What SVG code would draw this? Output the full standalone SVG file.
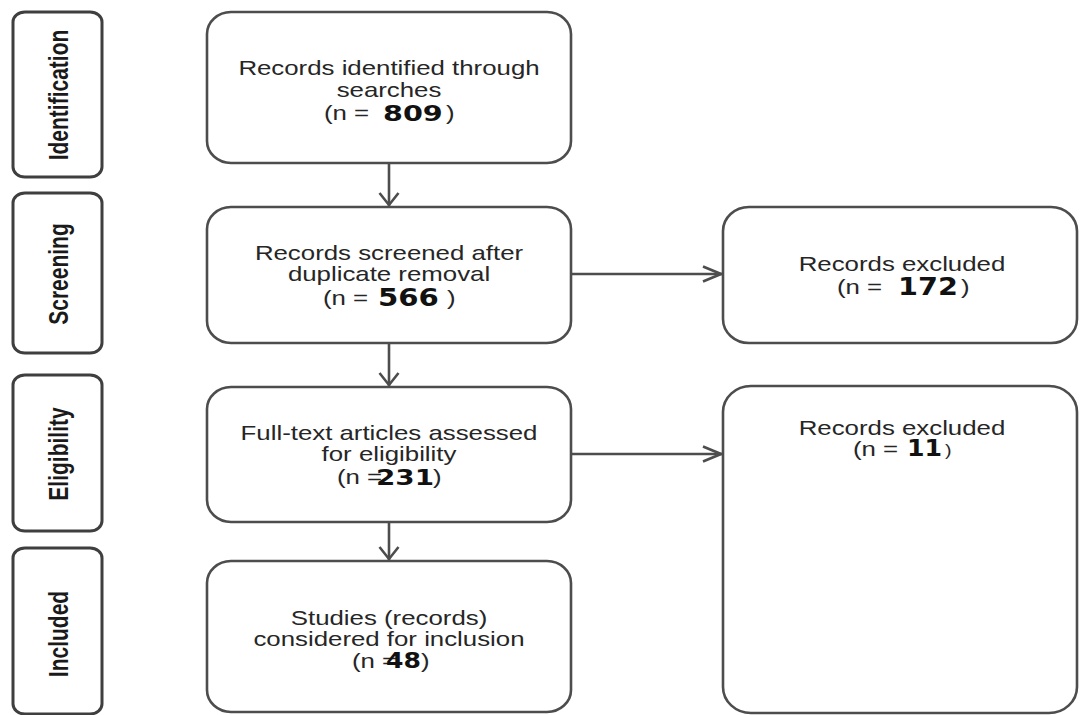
<svg xmlns="http://www.w3.org/2000/svg" width="1080" height="715" viewBox="0 0 1080 715">
<style>
.box{fill:#ffffff;stroke:#4d4d4d;stroke-width:2.6}
.side{fill:#ffffff;stroke:#3f3f3f;stroke-width:3}
.lab{font-family:"Liberation Sans",Arial,sans-serif;font-weight:bold;font-size:21px;fill:#1a1a1a}
.t{font-family:"Liberation Sans",Arial,sans-serif;font-size:21px;fill:#262626}
.num{font-family:"DejaVu Sans",Verdana,sans-serif;font-weight:bold;fill:#111111}
.con{fill:none;stroke:#4d4d4d;stroke-width:2.6}
.head{fill:none;stroke:#4d4d4d;stroke-width:2.6;stroke-linejoin:miter}
</style>
<defs>
<marker id="arrV" markerUnits="userSpaceOnUse" viewBox="-24 -12 26 24" refX="0" refY="0" markerWidth="26" markerHeight="24" orient="auto">
<path class="head" d="M-13,-9.5 L-1,0 L-13,9.5"/>
</marker>
<marker id="arrH" markerUnits="userSpaceOnUse" viewBox="-24 -12 26 24" refX="0" refY="0" markerWidth="26" markerHeight="24" orient="auto">
<path class="head" d="M-19,-7.5 L-1,0 L-19,7.5"/>
</marker>
</defs>
<rect width="1080" height="715" fill="#ffffff"/>

<g id="stage-identification">
<rect class="side" x="13" y="12" width="89" height="165" rx="12" ry="10"/>
<text class="lab" text-anchor="middle" transform="matrix(0 -1 1.3 0 68 95)">Identification</text>
</g>
<g id="stage-screening">
<rect class="side" x="13" y="193" width="89" height="160" rx="12" ry="10"/>
<text class="lab" text-anchor="middle" transform="matrix(0 -1 1.3 0 68 274)">Screening</text>
</g>
<g id="stage-eligibility">
<rect class="side" x="13" y="375" width="89" height="156" rx="12" ry="10"/>
<text class="lab" text-anchor="middle" transform="matrix(0 -1 1.3 0 68 454)">Eligibility</text>
</g>
<g id="stage-included">
<rect class="side" x="13" y="548" width="89" height="166" rx="12" ry="10"/>
<text class="lab" text-anchor="middle" transform="matrix(0 -1 1.3 0 68 634)">Included</text>
</g>

<g id="connectors">
<line class="con" x1="389" y1="163" x2="389" y2="206" marker-end="url(#arrV)"/>
<line class="con" x1="389" y1="343" x2="389" y2="386" marker-end="url(#arrV)"/>
<line class="con" x1="389" y1="522" x2="389" y2="560" marker-end="url(#arrV)"/>
<line class="con" x1="571" y1="274" x2="722" y2="274" marker-end="url(#arrH)"/>
<line class="con" x1="571" y1="454" x2="722" y2="454" marker-end="url(#arrH)"/>
</g>

<g id="identified">
<rect class="box" x="207" y="12" width="364" height="151" rx="24" ry="22"/>
<text class="t" text-anchor="middle" transform="matrix(1.23 0 0 1 389 75)">Records identified through</text>
<text class="t" text-anchor="middle" transform="matrix(1.23 0 0 1 389 97)">searches</text>
<text class="t" transform="matrix(1.23 0 0 1 324 120)">(n =</text>
<text class="num" style="font-size:20.6px" transform="matrix(1.39 0 0 1 383 120.5)">809</text>
<text class="t" transform="matrix(1.23 0 0 1 446 120)">)</text>
</g>

<g id="screened">
<rect class="box" x="207" y="207" width="364" height="136" rx="24" ry="22"/>
<text class="t" text-anchor="middle" transform="matrix(1.23 0 0 1 389 260)">Records screened after</text>
<text class="t" text-anchor="middle" transform="matrix(1.23 0 0 1 389 281)">duplicate removal</text>
<text class="t" transform="matrix(1.23 0 0 1 323 305)">(n =</text>
<text class="num" style="font-size:24.3px" transform="matrix(1.2 0 0 1 378 306)">566</text>
<text class="t" transform="matrix(1.23 0 0 1 447 305)">)</text>
</g>

<g id="fulltext">
<rect class="box" x="207" y="387" width="364" height="135" rx="24" ry="22"/>
<text class="t" text-anchor="middle" transform="matrix(1.23 0 0 1 389 440)">Full-text articles assessed</text>
<text class="t" text-anchor="middle" transform="matrix(1.23 0 0 1 389 461)">for eligibility</text>
<text class="t" transform="matrix(1.23 0 0 1 337 484)">(n =</text>
<text class="num" style="font-size:20.6px" transform="matrix(1.35 0 0 1 376 485)">231</text>
<text class="t" transform="matrix(1.23 0 0 1 433 484)">)</text>
</g>

<g id="included">
<rect class="box" x="207" y="561" width="364" height="151" rx="24" ry="22"/>
<text class="t" text-anchor="middle" transform="matrix(1.23 0 0 1 389 625)">Studies (records)</text>
<text class="t" text-anchor="middle" transform="matrix(1.23 0 0 1 389 646)">considered for inclusion</text>
<text class="t" transform="matrix(1.23 0 0 1 352 668)">(n =</text>
<text class="num" style="font-size:20.6px" transform="matrix(1.22 0 0 1 386 668)">48</text>
<text class="t" transform="matrix(1.23 0 0 1 421 668)">)</text>
</g>

<g id="excluded-screening">
<rect class="box" x="723" y="207" width="354" height="136" rx="26" ry="24"/>
<text class="t" text-anchor="middle" transform="matrix(1.23 0 0 1 902 271)">Records excluded</text>
<text class="t" transform="matrix(1.23 0 0 1 837 294)">(n =</text>
<text class="num" style="font-size:24.3px" transform="matrix(1.18 0 0 1 898 295)">172</text>
<text class="t" transform="matrix(1.23 0 0 1 961 294)">)</text>
</g>

<g id="excluded-eligibility">
<rect class="box" x="723" y="386" width="354" height="327" rx="28" ry="26"/>
<text class="t" text-anchor="middle" transform="matrix(1.23 0 0 1 902 435)">Records excluded</text>
<text class="t" transform="matrix(1.23 0 0 1 853 456)">(n =</text>
<text class="num" style="font-size:22.9px" transform="matrix(1.1 0 0 1 907 456)">11</text>
<text class="t" style="font-size:16px" transform="matrix(1.23 0 0 1 945 456)">)</text>
</g>
</svg>
